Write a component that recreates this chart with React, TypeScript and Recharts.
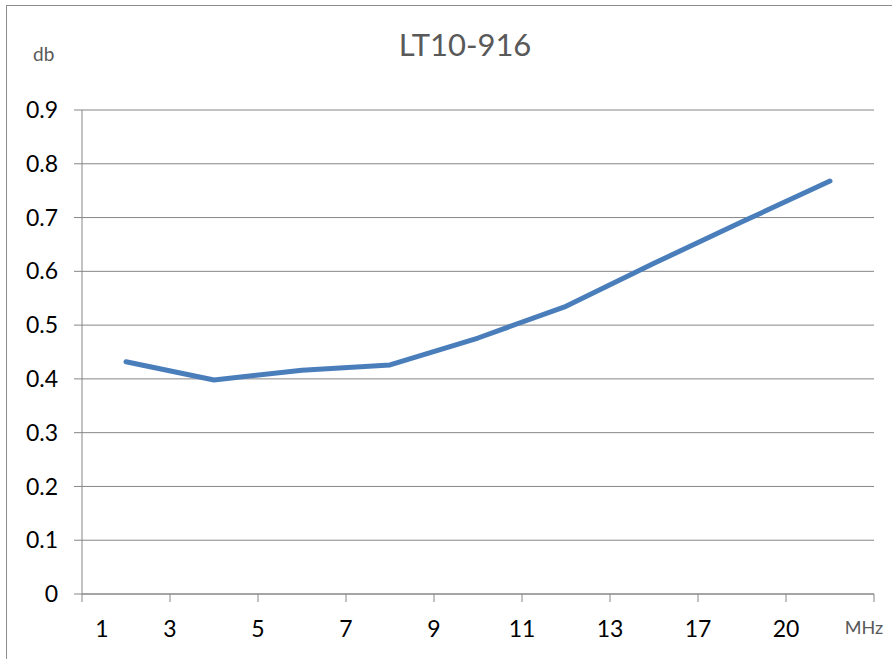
import { LineChart, Line, XAxis, YAxis, CartesianGrid } from "recharts";

// frequency categories (MHz) and attenuation (db)
const freqs = ["1", "3", "5", "7", "9", "11", "13", "17", "20"];
const loss = [0.432, 0.398, 0.416, 0.426, 0.476, 0.535, 0.615, 0.692, 0.768];
const yTicks = [0, 0.1, 0.2, 0.3, 0.4, 0.5, 0.6, 0.7, 0.8, 0.9];
const xTicks = [0, 1, 2, 3, 4, 5, 6, 7, 8, 9];

const title = "LT10-916";
const yUnit = "db";
const xUnit = "MHz";

const FONT = "Lato, 'Open Sans', sans-serif";
const GRID = "#868686";

// each category sits in the middle of its slot, ticks are at slot edges
const data = freqs.map((f, i) => ({ x: i + 0.5, freq: f, loss: loss[i] }));

function XTick(props: any) {
  const { x, y, payload } = props;
  const k = payload.value as number;
  if (k >= freqs.length) {
    return (
      <text x={x - 10} y={y} dy="0.71em" textAnchor="middle" fill="#595959" fontSize={18} fontFamily={FONT}>
        {xUnit}
      </text>
    );
  }
  const dx = k === 0 ? 20 : 0;
  return (
    <text x={x + dx} y={y} dy="0.71em" textAnchor="middle" fill="#000" fontSize={23} fontFamily={FONT}>
      {freqs[k]}
    </text>
  );
}

export default function App() {
  return (
    <div style={{ position: "absolute", left: 0, top: 0, width: 892, height: 659, overflow: "hidden", background: "#fff" }}>
      <div style={{ position: "absolute", left: 6, top: 5, width: 920, height: 700, border: "1px solid #8c8c8c" }} />
      <div style={{ position: "absolute", left: 0, width: 930, top: 24, textAlign: "center", fontFamily: FONT, fontSize: 31, color: "#595959", lineHeight: "40px" }}>
        {title}
      </div>
      <div style={{ position: "absolute", left: 33, top: 42, fontFamily: FONT, fontSize: 19, color: "#595959", lineHeight: "24px" }}>
        {yUnit}
      </div>
      <div style={{ position: "absolute", left: 0, top: 0 }}>
        <LineChart width={892} height={659} data={data} margin={{ top: 110, right: 18, bottom: 0, left: 0 }}>
          <CartesianGrid vertical={false} stroke={GRID} strokeWidth={1} />
          <XAxis
            dataKey="x"
            type="number"
            domain={[0, 9]}
            ticks={xTicks}
            interval={0}
            height={65}
            tickSize={8}
            tickMargin={19}
            axisLine={{ stroke: GRID }}
            tickLine={{ stroke: GRID }}
            tick={<XTick />}
          />
          <YAxis
            type="number"
            domain={[0, 0.9]}
            ticks={yTicks}
            interval={0}
            width={82}
            tickSize={8}
            tickMargin={16}
            axisLine={{ stroke: GRID }}
            tickLine={{ stroke: GRID }}
            tick={{ fill: "#000", fontSize: 23, fontFamily: FONT }}
          />
          <Line
            dataKey="loss"
            type="linear"
            stroke="#4A7EBB"
            strokeWidth={5}
            strokeLinecap="round"
            strokeLinejoin="round"
            dot={false}
            activeDot={false}
            isAnimationActive={false}
          />
        </LineChart>
      </div>
    </div>
  );
}
